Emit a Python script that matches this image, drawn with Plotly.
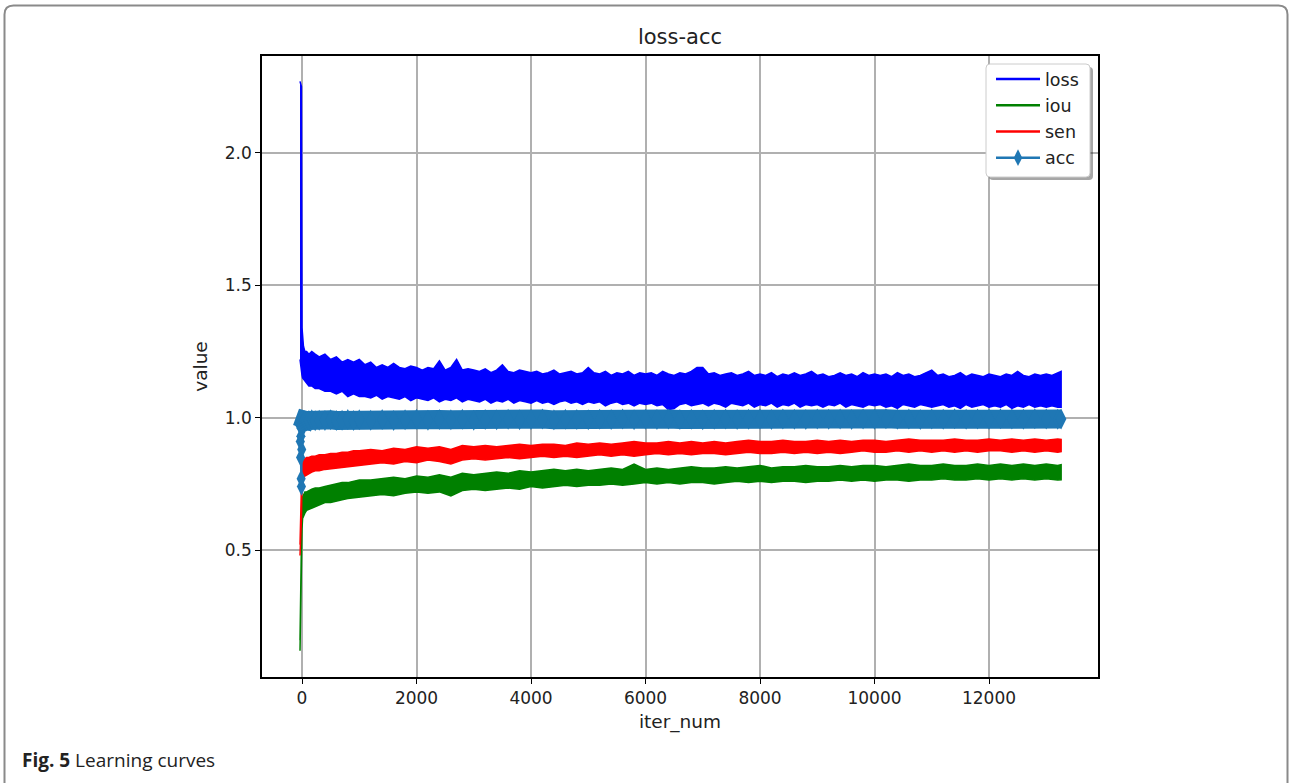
import plotly.graph_objects as go

# ---------------- data ----------------
early_iters = [-35, -10, 0, 10, 25, 50, 80, 120, 170, 230, 300, 400, 500, 600, 700, 800, 900, 1000]
iters = early_iters + list(range(1200, 13201, 200)) + [13260]           # iou / sen / acc samples
loss_iters = early_iters + list(range(1100, 13201, 100)) + [13260]      # loss samples

loss_hi = [2.27, 2.25, 1.34, 1.30, 1.27, 1.25, 1.25, 1.24, 1.25, 1.24, 1.23, 1.24, 1.22, 1.23, 1.21, 1.22, 1.21, 1.22,
           1.20, 1.21, 1.19, 1.20, 1.19, 1.205, 1.19, 1.185, 1.195, 1.19,
           1.18, 1.19, 1.185, 1.215, 1.18, 1.19, 1.22, 1.18, 1.185, 1.18,
           1.175, 1.185, 1.17, 1.18, 1.20, 1.175, 1.17, 1.18, 1.175, 1.17,
           1.175, 1.165, 1.17, 1.18, 1.165, 1.17, 1.175, 1.165, 1.17, 1.19,
           1.17, 1.165, 1.175, 1.16, 1.17, 1.165, 1.175, 1.16, 1.17, 1.165,
           1.17, 1.16, 1.175, 1.165, 1.16, 1.17, 1.165, 1.175, 1.19, 1.19,
           1.165, 1.17, 1.16, 1.165, 1.17, 1.16, 1.165, 1.175, 1.16, 1.165,
           1.16, 1.17, 1.155, 1.165, 1.16, 1.17, 1.16, 1.165, 1.175, 1.16,
           1.165, 1.155, 1.16, 1.17, 1.16, 1.165, 1.155, 1.17, 1.16, 1.165,
           1.16, 1.165, 1.155, 1.17, 1.16, 1.165, 1.155, 1.16, 1.17, 1.18,
           1.16, 1.165, 1.155, 1.16, 1.17, 1.155, 1.165, 1.16, 1.155, 1.165,
           1.16, 1.155, 1.165, 1.16, 1.175, 1.16, 1.155, 1.165, 1.16, 1.165,
           1.16, 1.17,
           1.175]
loss_lo = [1.22, 1.18, 1.16, 1.15, 1.145, 1.14, 1.13, 1.12, 1.12, 1.11, 1.11, 1.10, 1.10, 1.09, 1.10, 1.08, 1.09, 1.08,
           1.08, 1.075, 1.085, 1.07, 1.08, 1.075, 1.07, 1.08, 1.065, 1.075,
           1.07, 1.065, 1.075, 1.06, 1.07, 1.065, 1.075, 1.06, 1.07, 1.065,
           1.06, 1.07, 1.055, 1.065, 1.06, 1.07, 1.055, 1.065, 1.06, 1.055,
           1.065, 1.055, 1.06, 1.05, 1.06, 1.065, 1.055, 1.06, 1.05, 1.06,
           1.055, 1.06, 1.045, 1.055, 1.06, 1.05, 1.055, 1.045, 1.055, 1.05,
           1.055, 1.045, 1.05, 1.03, 1.035, 1.05, 1.055, 1.045, 1.05, 1.055,
           1.045, 1.055, 1.05, 1.04, 1.055, 1.05, 1.045, 1.055, 1.04, 1.05,
           1.045, 1.055, 1.04, 1.05, 1.045, 1.055, 1.04, 1.05, 1.045, 1.05,
           1.04, 1.05, 1.045, 1.055, 1.04, 1.05, 1.045, 1.04, 1.05, 1.045,
           1.05, 1.04, 1.045, 1.035, 1.05, 1.045, 1.04, 1.05, 1.045, 1.04,
           1.045, 1.05, 1.04, 1.045, 1.035, 1.05, 1.04, 1.045, 1.05, 1.04,
           1.045, 1.04, 1.05, 1.035, 1.045, 1.04, 1.05, 1.04, 1.045, 1.04,
           1.045, 1.04,
           1.04]

iou_hi = [0.16, 0.60, 0.68, 0.70, 0.71, 0.72, 0.72, 0.725, 0.73, 0.735, 0.735, 0.74, 0.745, 0.75, 0.755, 0.755, 0.76, 0.765,
          0.765, 0.77, 0.775, 0.77, 0.78, 0.775, 0.785, 0.775, 0.79, 0.785,
          0.79, 0.795, 0.79, 0.80, 0.795, 0.80, 0.805, 0.80, 0.805, 0.80,
          0.805, 0.81, 0.805, 0.825, 0.805, 0.81, 0.805, 0.81, 0.815, 0.81,
          0.81, 0.815, 0.81, 0.815, 0.82, 0.81, 0.815, 0.815, 0.82, 0.815,
          0.815, 0.82, 0.815, 0.82, 0.82, 0.815, 0.82, 0.825, 0.82, 0.82,
          0.825, 0.82, 0.82, 0.825, 0.82, 0.825, 0.82, 0.825, 0.82, 0.825, 0.82,
          0.823]
iou_lo = [0.12, 0.40, 0.58, 0.62, 0.63, 0.64, 0.65, 0.655, 0.66, 0.665, 0.67, 0.68, 0.68, 0.685, 0.69, 0.695, 0.70, 0.70,
          0.705, 0.71, 0.705, 0.715, 0.72, 0.715, 0.72, 0.705, 0.725, 0.73,
          0.725, 0.73, 0.735, 0.73, 0.74, 0.735, 0.74, 0.745, 0.74, 0.745,
          0.745, 0.75, 0.745, 0.75, 0.755, 0.75, 0.755, 0.75, 0.755, 0.755,
          0.75, 0.755, 0.76, 0.755, 0.76, 0.755, 0.76, 0.76, 0.755, 0.76,
          0.76, 0.765, 0.76, 0.765, 0.76, 0.765, 0.765, 0.76, 0.765, 0.765,
          0.77, 0.765, 0.765, 0.77, 0.765, 0.77, 0.765, 0.77, 0.765, 0.77, 0.765,
          0.766]

sen_hi = [0.52, 0.80, 0.83, 0.835, 0.84, 0.845, 0.85, 0.85, 0.855, 0.855, 0.86, 0.86, 0.865, 0.865, 0.87, 0.87, 0.875, 0.875,
          0.88, 0.875, 0.885, 0.88, 0.89, 0.885, 0.89, 0.88, 0.895, 0.89,
          0.895, 0.89, 0.895, 0.90, 0.895, 0.90, 0.90, 0.895, 0.905, 0.90,
          0.905, 0.90, 0.905, 0.91, 0.905, 0.905, 0.91, 0.905, 0.91, 0.905,
          0.91, 0.905, 0.91, 0.915, 0.91, 0.91, 0.915, 0.91, 0.91, 0.915,
          0.91, 0.915, 0.91, 0.915, 0.915, 0.91, 0.915, 0.92, 0.915, 0.915,
          0.915, 0.92, 0.915, 0.915, 0.92, 0.915, 0.92, 0.915, 0.92, 0.915, 0.92,
          0.918]
sen_lo = [0.48, 0.62, 0.76, 0.77, 0.775, 0.78, 0.785, 0.79, 0.795, 0.80, 0.80, 0.805, 0.81, 0.81, 0.815, 0.815, 0.82, 0.82,
          0.825, 0.83, 0.825, 0.835, 0.83, 0.84, 0.835, 0.825, 0.84, 0.845,
          0.84, 0.845, 0.85, 0.845, 0.85, 0.855, 0.85, 0.855, 0.85, 0.855,
          0.86, 0.855, 0.86, 0.855, 0.86, 0.865, 0.86, 0.865, 0.86, 0.865,
          0.865, 0.86, 0.865, 0.87, 0.865, 0.865, 0.87, 0.865, 0.87, 0.865,
          0.87, 0.865, 0.87, 0.875, 0.87, 0.87, 0.875, 0.87, 0.875, 0.87,
          0.875, 0.87, 0.875, 0.87, 0.875, 0.875, 0.87, 0.875, 0.87, 0.875, 0.87,
          0.872]

# acc: scattered start values, then the main run on iters from 0 onward
acc_head_iter = [-35, -30, -25, -20, -15, -10, -5]
acc_head = [0.97, 0.91, 0.85, 0.93, 0.77, 0.74, 0.88]
acc_main = [0.96, 0.975, 0.985, 0.99, 0.988, 0.99, 0.992, 0.989, 0.991, 0.99, 0.992, 0.99, 0.991, 0.993, 0.99, 0.992,
            0.991, 0.993, 0.99, 0.992, 0.994, 0.991, 0.993, 0.992, 0.994, 0.991,
            0.993, 0.992, 0.994, 0.992, 0.993, 0.995, 0.992, 0.994, 0.993, 0.992,
            0.994, 0.993, 0.995, 0.992, 0.994, 0.993, 0.995, 0.993, 0.994, 0.992,
            0.994, 0.995, 0.993, 0.994, 0.995, 0.993, 0.995, 0.994, 0.993, 0.995,
            0.994, 0.995, 0.993, 0.995, 0.994, 0.996, 0.994, 0.995, 0.993, 0.995,
            0.994, 0.996, 0.994, 0.995, 0.994, 0.996, 0.995, 0.994, 0.996, 0.995, 0.994,
            0.995]

x_ticks = [0, 2000, 4000, 6000, 8000, 10000, 12000]
x_tick_text = ["0", "2000", "4000", "6000", "8000", "10000", "12000"]
y_ticks = [0.5, 1.0, 1.5, 2.0]

# ---------------- geometry helpers (pixels -> paper) ----------------
W, H = 1290, 783
L, R, T, B = 262, 1098, 56, 677
PW, PH = R - L, B - T


def px(x):
    return (x - L) / PW


def py(y):
    return (B - y) / PH


def rrect(x0, y0, x1, y1, r):
    pts = [
        f"M {px(x0 + r)},{py(y0)}",
        f"L {px(x1 - r)},{py(y0)}",
        f"Q {px(x1)},{py(y0)} {px(x1)},{py(y0 + r)}",
        f"L {px(x1)},{py(y1 - r)}",
        f"Q {px(x1)},{py(y1)} {px(x1 - r)},{py(y1)}",
        f"L {px(x0 + r)},{py(y1)}",
        f"Q {px(x0)},{py(y1)} {px(x0)},{py(y1 - r)}",
        f"L {px(x0)},{py(y0 + r)}",
        f"Q {px(x0)},{py(y0)} {px(x0 + r)},{py(y0)}",
        "Z",
    ]
    return " ".join(pts)


fig = go.Figure()

bands = [("loss", loss_iters, loss_hi, loss_lo, "#0000ff"),
         ("iou", iters, iou_hi, iou_lo, "#008000"),
         ("sen", iters, sen_hi, sen_lo, "#ff0000")]
for name, xs, hi, lo, col in bands:
    fig.add_trace(go.Scatter(
        x=xs + xs[::-1], y=hi + lo[::-1], mode="lines", fill="toself",
        fillcolor=col, line=dict(color=col, width=1.5), showlegend=False,
        hoverinfo="skip", name=name))

acc_col = "#1f77b4"
main_x = iters[2:]
fig.add_trace(go.Scatter(
    x=acc_head_iter + main_x[:1], y=acc_head + acc_main[:1], mode="lines+markers",
    line=dict(color=acc_col, width=2),
    marker=dict(symbol="diamond-tall", size=13, color=acc_col),
    showlegend=False, hoverinfo="skip"))
fig.add_trace(go.Scatter(
    x=main_x, y=acc_main, mode="lines+markers",
    line=dict(color=acc_col, width=19),
    marker=dict(symbol="diamond-tall", size=15, color=acc_col),
    showlegend=False, hoverinfo="skip"))

# legend proxies
for name, col in [("loss", "#0000ff"), ("iou", "#008000"), ("sen", "#ff0000")]:
    fig.add_trace(go.Scatter(x=[None], y=[None], mode="lines", name=name, legendgroup=name,
                             line=dict(color=col, width=2.5)))
fig.add_trace(go.Scatter(x=[None], y=[None], mode="lines+markers", name="acc", legendgroup="acc",
                         line=dict(color=acc_col, width=2.5),
                         marker=dict(symbol="diamond-tall", size=12, color=acc_col)))

shapes = [
    # outer figure frame
    dict(type="path", xref="paper", yref="paper", path=rrect(4.5, 5.5, 1287.5, 800, 9),
         line=dict(color="#8a8a8a", width=2), fillcolor="rgba(0,0,0,0)", layer="below"),
    # legend shadow and box
    dict(type="path", xref="paper", yref="paper", path=rrect(989, 67, 1093, 180, 4),
         line=dict(width=0), fillcolor="rgba(0,0,0,0.35)", layer="above"),
    dict(type="path", xref="paper", yref="paper", path=rrect(986, 64, 1090, 177, 4),
         line=dict(color="#cccccc", width=1), fillcolor="white", layer="above"),
]

fig.update_layout(
    width=W, height=H,
    margin=dict(l=L, r=W - R, t=T, b=H - B),
    paper_bgcolor="white", plot_bgcolor="white",
    font=dict(family="DejaVu Sans", size=17, color="#222222"),
    title=dict(text="loss-acc", x=px(680), xref="paper", xanchor="center",
               y=1 - 37 / H, yref="container", yanchor="middle",
               font=dict(size=21, color="#222222")),
    shapes=shapes,
    legend=dict(x=px(991), y=py(61), xanchor="left", yanchor="top",
                bgcolor="rgba(0,0,0,0)", borderwidth=0,
                font=dict(size=17.5, color="#222222"), itemwidth=44,
                tracegroupgap=0.5),
    annotations=[dict(text="<b>Fig. 5</b> Learning curves", xref="paper", yref="paper",
                      x=px(20), y=py(760), xanchor="left", yanchor="middle",
                      showarrow=False,
                      font=dict(family="Open Sans", size=19, color="#222222"))],
)

axis_common = dict(showgrid=True, gridcolor="#b0b0b0", gridwidth=1.5,
                   showline=True, linecolor="black", linewidth=1.5, mirror=True,
                   ticks="outside", ticklen=5, tickwidth=1.3, tickcolor="black",
                   zeroline=False, tickfont=dict(size=17, color="#222222"))
fig.update_xaxes(range=[-699, 13904], tickvals=x_ticks, ticktext=x_tick_text,
                 title=dict(text="iter_num", standoff=8, font=dict(size=18.5)),
                 **axis_common)
fig.update_yaxes(range=[0.021, 2.366], tickvals=y_ticks, tickformat=".1f",
                 title=dict(text="value", standoff=12, font=dict(size=18.5)),
                 **axis_common)

fig.write_html("out.html", config={"displayModeBar": False},
               post_script="document.body.style.margin='0';")
